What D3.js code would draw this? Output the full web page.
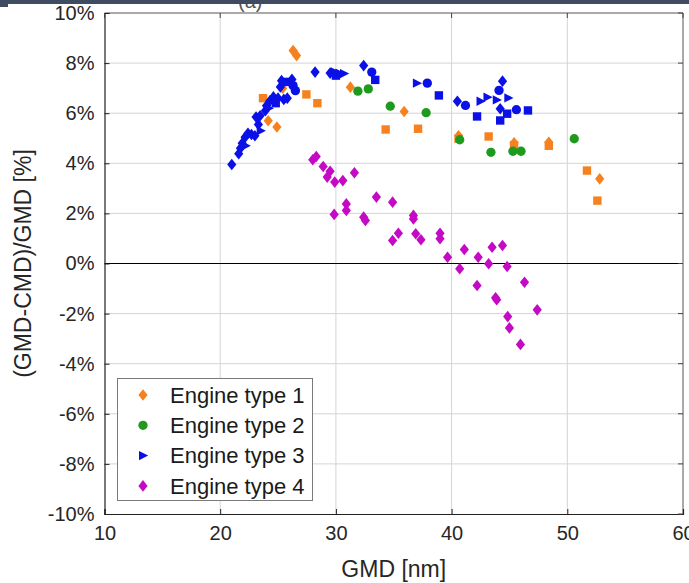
<!DOCTYPE html>
<html>
<head>
<meta charset="utf-8">
<script src="https://cdn.jsdelivr.net/npm/d3@7"></script>
<style>
  html, body { margin: 0; padding: 0; background: #fff; }
  svg { display: block; font-family: "Liberation Sans", Arial, sans-serif; }
</style>
</head>
<body>
<svg id="chart" width="689" height="583"></svg>
<script>
// Relative difference between GMD and CMD for four engine types.
// Marker codes: d = diamond, s = square, t = right triangle, c = circle.
const seriesNames = ["Engine type 1", "Engine type 2", "Engine type 3", "Engine type 4"];
const seriesColors = ["#f5821f", "#1e9a1e", "#0a10e6", "#c40ac4"];
const legendShapes = ["d", "c", "t", "d"];

const type1X = [26.3, 26.6, 24.15, 24.9, 31.25, 35.9, 40.6, 45.4, 48.4, 52.8, 25.4,
                27.45, 28.4, 23.7, 34.3, 37.1, 40.6, 43.2, 45.4, 48.4, 51.7, 52.6];
const type1Y = [8.5, 8.3, 5.7, 5.45, 7.04, 6.07, 5.1, 4.82, 4.84, 3.38, 7.0,
                6.75, 6.4, 6.6, 5.35, 5.38, 4.98, 5.07, 4.72, 4.7, 3.71, 2.51];
const type1Shape = ["d","d","d","d","d","d","d","d","d","d","d",
                    "s","s","s","s","s","s","s","s","s","s","s"];

const type2X = [31.9, 32.8, 34.7, 37.8, 40.7, 43.4, 45.3, 46.0, 50.6];
const type2Y = [6.88, 6.97, 6.28, 6.02, 4.94, 4.44, 4.48, 4.48, 4.98];
const type2Shape = ["c","c","c","c","c","c","c","c","c"];

const type3X = [21.0, 21.6, 21.75, 21.9, 22.15, 22.4, 22.7, 23.0, 23.3, 23.1, 23.45, 23.9, 24.0,
                24.3, 24.6, 25.0, 25.5, 25.8, 24.8, 25.2, 25.3, 25.8, 26.2, 26.3, 26.5, 24.2,
                23.5, 22.2, 28.2, 29.5, 29.9, 30.3, 30.7, 30.0, 32.4, 33.1, 33.4, 37.0, 37.9,
                38.9, 40.5, 41.2, 42.2, 42.5, 43.1, 44.4, 44.1, 43.9, 44.9, 44.2, 44.8, 45.6,
                46.6, 44.2];
const type3Y = [3.95, 4.38, 4.6, 4.8, 5.04, 5.2, 5.15, 5.1, 5.55, 5.85, 5.9, 6.1, 6.3,
                6.5, 6.65, 6.6, 6.55, 6.6, 6.4, 7.05, 7.3, 7.25, 7.35, 7.1, 6.9, 6.2,
                5.3, 4.7, 7.64, 7.6, 7.65, 7.6, 7.58, 7.5, 7.9, 7.64, 7.33, 7.2, 7.2,
                6.71, 6.48, 6.31, 5.87, 6.48, 6.64, 7.28, 6.91, 6.53, 6.61, 6.18, 5.98, 6.14,
                6.11, 5.71];
const type3Shape = ["d","d","d","d","d","d","d","d","d","d","d","d","d",
                    "d","d","d","d","d","s","d","d","s","d","c","c","t",
                    "t","t","d","d","t","t","t","s","d","c","s","t","c",
                    "s","d","c","s","t","t","d","c","t","t","d","s","c",
                    "s","s"];

const type4X = [28.0, 28.3, 28.9, 29.5, 29.25, 29.9, 30.6, 31.6, 30.9, 30.9, 29.85, 32.4, 32.55,
                33.5, 34.9, 35.4, 34.9, 36.7, 36.7, 36.9, 37.35, 39.0, 39.0, 39.65, 40.7, 41.1,
                42.3, 42.2, 43.5, 43.2, 44.4, 44.8, 43.8, 43.9, 44.85, 45.0, 46.3, 47.4, 45.95];
const type4Y = [4.14, 4.27, 3.87, 3.68, 3.45, 3.25, 3.31, 3.62, 2.38, 2.12, 1.96, 1.85, 1.72,
                2.65, 2.45, 1.21, 0.92, 1.92, 1.78, 1.19, 0.95, 1.21, 0.99, 0.25, -0.21, 0.56,
                0.25, -0.88, 0.65, -0.01, 0.72, -0.12, -1.37, -1.45, -2.12, -2.57, -0.75, -1.85, -3.23];
const type4Shape = type4X.map(() => "d");

const xTicks = [10, 20, 30, 40, 50, 60];
const yTicks = [-10, -8, -6, -4, -2, 0, 2, 4, 6, 8, 10];
const xLabel = "GMD [nm]";
const yLabel = "(GMD-CMD)/GMD [%]";

const allSeries = [
  {x: type1X, y: type1Y, s: type1Shape},
  {x: type2X, y: type2Y, s: type2Shape},
  {x: type3X, y: type3Y, s: type3Shape},
  {x: type4X, y: type4Y, s: type4Shape}
];

const W = 689, H = 583;
const plot = {left: 104.5, right: 683, top: 13, bottom: 514};

const x = d3.scaleLinear().domain([10, 60]).range([plot.left, plot.right]);
const y = d3.scaleLinear().domain([-10, 10]).range([plot.bottom, plot.top]);

const svg = d3.select("#chart");

// Marker path generator
function markerPath(shape) {
  switch (shape) {
    case "d": return "M0,-5.8L4.6,0L0,5.8L-4.6,0Z";
    case "s": return "M-4.2,-4.2H4.2V4.2H-4.2Z";
    case "t": return "M-4,-4.7L5.2,0L-4,4.7Z";
    case "c": return d3.symbol(d3.symbolCircle, 68)();
  }
}

// Grid
const grid = svg.append("g");
grid.selectAll("line.gx").data(xTicks.slice(1, -1)).join("line")
  .attr("x1", d => x(d)).attr("x2", d => x(d))
  .attr("y1", plot.top).attr("y2", plot.bottom)
  .attr("stroke", "#d4d4d4").attr("stroke-width", 1);
grid.selectAll("line.gy").data(yTicks.slice(1, -1)).join("line")
  .attr("x1", plot.left).attr("x2", plot.right)
  .attr("y1", d => y(d)).attr("y2", d => y(d))
  .attr("stroke", "#d4d4d4").attr("stroke-width", 1);

// Zero reference line
svg.append("line")
  .attr("x1", plot.left).attr("x2", plot.right)
  .attr("y1", y(0)).attr("y2", y(0))
  .attr("stroke", "#000").attr("stroke-width", 1.1);

// Box outline (top / right)
svg.append("line").attr("x1", plot.left).attr("x2", plot.right)
  .attr("y1", plot.top).attr("y2", plot.top).attr("stroke", "#555").attr("stroke-width", 1);
svg.append("line").attr("x1", plot.right).attr("x2", plot.right)
  .attr("y1", plot.top).attr("y2", plot.bottom).attr("stroke", "#555").attr("stroke-width", 1);

// Axes
const xAxis = d3.axisBottom(x).tickValues(xTicks).tickSize(-5).tickPadding(12).tickFormat(d3.format("d"));
const yAxis = d3.axisLeft(y).tickValues(yTicks).tickSize(-5).tickPadding(10).tickFormat(d => d + "%");

const gx = svg.append("g").attr("transform", `translate(0,${plot.bottom})`).call(xAxis);
const gy = svg.append("g").attr("transform", `translate(${plot.left},0)`).call(yAxis);
[gx, gy].forEach(g => {
  g.select(".domain").attr("stroke", "#222").attr("stroke-width", 1.2);
  g.selectAll(".tick line").attr("stroke", "#222");
  g.selectAll(".tick text").attr("fill", "#262626").style("font-size", "20px")
    .style("font-family", "'Liberation Sans', Arial, sans-serif");
});
// Ticks on the opposite sides of the box
svg.append("g").selectAll("line").data(xTicks).join("line")
  .attr("x1", d => x(d)).attr("x2", d => x(d))
  .attr("y1", plot.top).attr("y2", plot.top + 5).attr("stroke", "#444");
svg.append("g").selectAll("line").data(yTicks).join("line")
  .attr("x1", plot.right).attr("x2", plot.right - 5)
  .attr("y1", d => y(d)).attr("y2", d => y(d)).attr("stroke", "#444");

// Points
allSeries.forEach((ser, i) => {
  const pts = ser.x.map((v, k) => ({x: v, y: ser.y[k], s: ser.s[k]}));
  svg.append("g").selectAll("path").data(pts).join("path")
    .attr("d", d => markerPath(d.s))
    .attr("transform", d => `translate(${x(d.x)},${y(d.y)})`)
    .attr("fill", seriesColors[i]);
});

// Axis labels
svg.append("text")
  .attr("x", (plot.left + plot.right) / 2).attr("y", 577)
  .attr("text-anchor", "middle").attr("fill", "#262626")
  .style("font-size", "23px").text(xLabel);
svg.append("text")
  .attr("transform", `translate(31,${(plot.top + plot.bottom) / 2}) rotate(-90)`)
  .attr("text-anchor", "middle").attr("fill", "#262626")
  .style("font-size", "23px").text(yLabel);

// Legend
const legend = svg.append("g");
legend.append("rect")
  .attr("x", 117.5).attr("y", 378.5).attr("width", 195).attr("height", 122)
  .attr("fill", "#fff").attr("stroke", "#7a7a7a").attr("stroke-width", 1);
seriesNames.forEach((name, i) => {
  const ly = 395 + i * 30.3;
  legend.append("path").attr("d", markerPath(legendShapes[i]))
    .attr("transform", `translate(143,${ly})`).attr("fill", seriesColors[i]);
  legend.append("text").attr("x", 170).attr("y", ly + 7.8)
    .attr("fill", "#1a1a1a").style("font-size", "22px").text(name);
});

// Panel title, partly under the window bar
svg.append("text").attr("x", 238).attr("y", 8)
  .attr("fill", "#555").style("font-size", "20px").text("(a)");

// Window bar across the top
svg.append("rect").attr("x", 0).attr("y", 0).attr("width", W).attr("height", 4).attr("fill", "#3e4b61");
svg.append("rect").attr("x", 0).attr("y", 0).attr("width", 8).attr("height", 7).attr("fill", "#3e4b61");
</script>
</body>
</html>
